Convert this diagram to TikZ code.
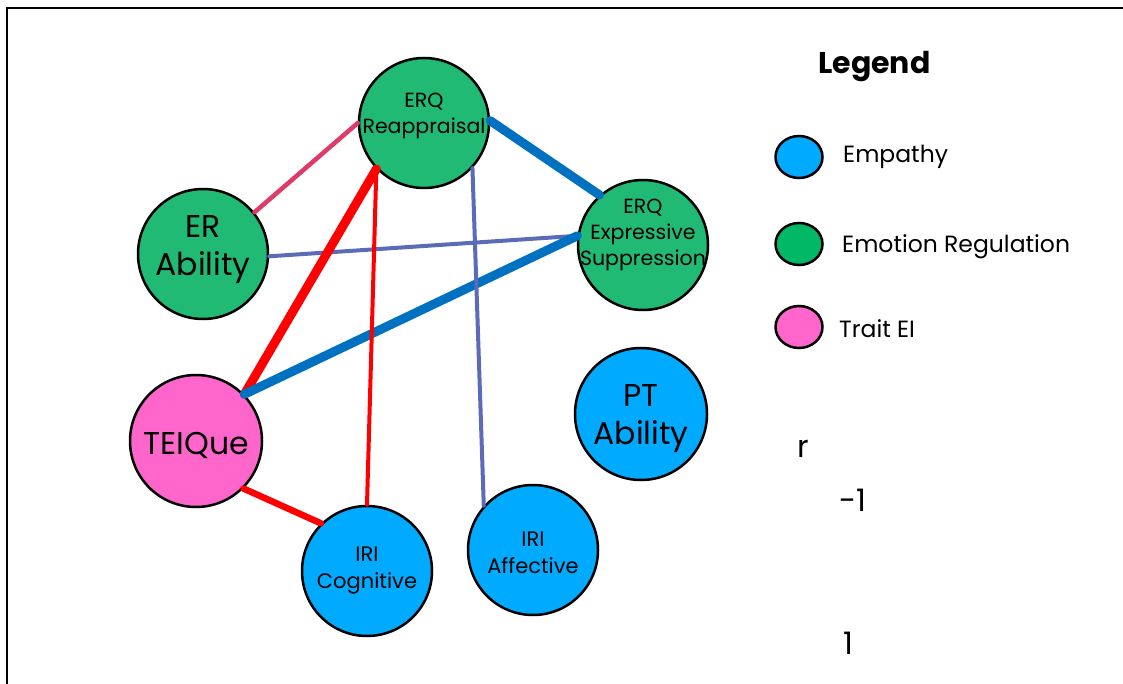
\documentclass[tikz,border=0pt]{standalone}
\usepackage{fontspec}
\setmainfont{Poppins}
\usetikzlibrary{shapes.geometric}
\definecolor{ergreen}{HTML}{21BA75}
\definecolor{legreen}{HTML}{00B865}
\definecolor{empblue}{HTML}{00AAFF}
\definecolor{traitpink}{HTML}{FF66CC}
\definecolor{posred}{HTML}{FF0000}
\definecolor{negblue}{HTML}{0070C0}
\definecolor{weakblue}{HTML}{5B6BB8}
\definecolor{weakred}{HTML}{DE3B6A}
% invisible struts that move a label up (deeper last line) or down (taller first line)
\newcommand{\downstrut}[1]{\rule[-#1]{0pt}{0pt}}
\newcommand{\upstrut}[1]{\rule{0pt}{#1}}
\begin{document}
\begin{tikzpicture}[x=1pt,y=-1pt,
  bub/.style={circle,draw=black,line width=2.5pt,minimum size=130pt,inner sep=-40pt,align=center,text=black},
  smalltxt/.style={font=\fontsize{20.5}{26}\selectfont},
  midtxt/.style={font=\fontsize{21}{27}\selectfont},
  bigtxt/.style={font=\fontsize{31.5}{38}\selectfont},
  keydot/.style={ellipse,draw=black,line width=2.5pt,minimum width=47pt,minimum height=42pt,inner sep=0pt},
  keytxt/.style={anchor=base west,inner sep=0pt,font=\fontsize{23.5}{28}\selectfont},
  scaletxt/.style={anchor=base west,inner sep=0pt,font=\fontsize{31}{36}\selectfont},
  link/.style={line cap=round}
]
\useasboundingbox (0,0) rectangle (1123,684);
\fill[white] (0,0) rectangle (1123,684);
\draw[line width=2.5pt] (7,684) -- (7,8) -- (1123,8);

% measures
\node[bub,fill=ergreen,smalltxt] (rea) at (424,123) {ERQ\\Reappraisal\downstrut{19pt}};
\node[bub,fill=ergreen,smalltxt] (es) at (643,245) {ERQ\\Expressive\\Suppression\downstrut{26pt}};
\node[bub,fill=ergreen,bigtxt] (era) at (203,254) {ER\\Ability\downstrut{17pt}};
\node[bub,fill=traitpink,bigtxt,minimum size=132pt] (tei) at (196,441) {\upstrut{31pt}TEIQue};
\node[bub,fill=empblue,midtxt] (cog) at (367,571) {IRI\\Cognitive};
\node[bub,fill=empblue,midtxt] (aff) at (533,550) {\upstrut{21pt}IRI\\Affective};
\node[bub,fill=empblue,bigtxt,minimum size=132pt] (pt) at (641,414) {\upstrut{31pt}PT\\Ability};

% correlations
\draw[link,weakred,line width=4.5pt] (rea.180) -- (era.39);
\draw[link,negblue,line width=9pt] (rea.2) -- (es.131);
\draw[link,weakblue,line width=4pt] (era.358) -- (es.172);
\draw[link,posred,line width=9pt] (tei.44) -- (rea.224);
\draw[link,negblue,line width=9pt] (tei.44) -- (es.172);
\draw[link,posred,line width=4pt] (rea.224) -- (cog.90);
\draw[link,weakblue,line width=4pt] (rea.317) -- (aff.138);
\draw[link,posred,line width=6.5pt] (tei.315) -- (cog.134);

% legend
\node[anchor=base west,inner sep=0pt,font=\fontsize{30}{34}\selectfont\bfseries] (legtitle) at (818,74) {Legend};
\node[keydot,fill=empblue] (kemp) at (799,157) {};
\node[keydot,fill=legreen] (kreg) at (799,244) {};
\node[keydot,fill=traitpink] (ktrait) at (799,327) {};
\node[keytxt] (temp) at (843,163) {Empathy};
\node[keytxt] (treg) at (842,253) {Emotion Regulation};
\node[keytxt] (ttrait) at (839,337) {Trait EI};

% colour scale labels
\node[scaletxt] (rlab) at (797,457) {r};
\node[scaletxt] (rmin) at (839,511) {-1};
\node[scaletxt] (rmax) at (843,654) {1};
\end{tikzpicture}
\end{document}
